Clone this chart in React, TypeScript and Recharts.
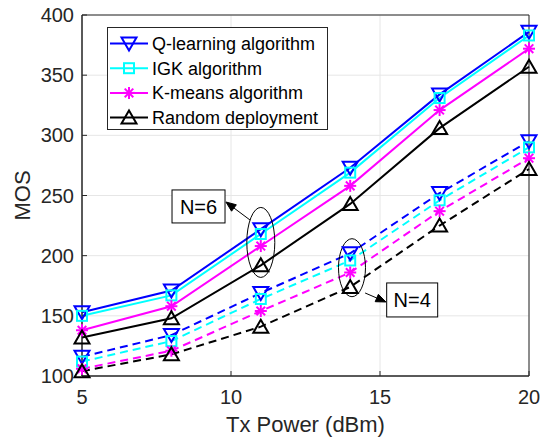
import React from 'react';
import {
  LineChart, Line, XAxis, YAxis, CartesianGrid, Legend, ReferenceArea, ReferenceDot, ReferenceLine,
} from 'recharts';

const txPower = [5, 8, 11, 14, 17, 20];
const qN6 = [153, 171, 222, 273, 334, 386];
const igkN6 = [150, 167, 218, 269, 331, 383];
const kmN6 = [138, 158, 208, 258, 321, 372];
const rdN6 = [132, 148, 192, 243, 306, 357];
const qN4 = [116, 134, 169, 202, 252, 295];
const igkN4 = [112, 129, 164, 196, 246, 290];
const kmN4 = [106, 121, 154, 186, 237, 281];
const rdN4 = [104, 118, 141, 174, 225, 272];

const xTicks = [5, 10, 15, 20];
const yTicks = [100, 150, 200, 250, 300, 350, 400];

const legendNames = ['Q-learning algorithm', 'IGK algorithm', 'K-means algorithm', 'Random deployment'];
const legendColors = ['#0000ff', '#00ffff', '#ff00ff', '#000000'];
const legendMarkers = ['down', 'square', 'star', 'up'];

const data = txPower.map((x, i) => ({
  x,
  qN6: qN6[i], igkN6: igkN6[i], kmN6: kmN6[i], rdN6: rdN6[i],
  qN4: qN4[i], igkN4: igkN4[i], kmN4: kmN4[i], rdN4: rdN4[i],
}));

const FONT = '"Liberation Sans", Arial, Helvetica, sans-serif';
const TXT = '#262626';

function MarkerShape({ kind, cx, cy, color }: { kind: string; cx: number; cy: number; color: string }) {
  if (cx == null || cy == null || isNaN(cx) || isNaN(cy)) return null;
  if (kind === 'down') {
    return <polygon points={`${cx - 7.5},${cy - 6} ${cx + 7.5},${cy - 6} ${cx},${cy + 7}`} fill="none" stroke={color} strokeWidth={2} />;
  }
  if (kind === 'up') {
    return <polygon points={`${cx - 7.5},${cy + 6} ${cx + 7.5},${cy + 6} ${cx},${cy - 7}`} fill="none" stroke={color} strokeWidth={2} />;
  }
  if (kind === 'square') {
    return <rect x={cx - 5} y={cy - 5} width={10} height={10} fill="none" stroke={color} strokeWidth={2} />;
  }
  const s = 6;
  const d = 4.3;
  return (
    <g stroke={color} strokeWidth={2}>
      <line x1={cx - s} y1={cy} x2={cx + s} y2={cy} />
      <line x1={cx} y1={cy - s} x2={cx} y2={cy + s} />
      <line x1={cx - d} y1={cy - d} x2={cx + d} y2={cy + d} />
      <line x1={cx - d} y1={cy + d} x2={cx + d} y2={cy - d} />
    </g>
  );
}

const makeDot = (kind: string, color: string) => (props: any) => (
  <MarkerShape key={`${kind}-${color}-${props.index}`} kind={kind} cx={props.cx} cy={props.cy} color={color} />
);

const LegendBox = () => (
  <svg width={221} height={103} style={{ display: 'block' }}>
    <rect x={0.5} y={0.5} width={220} height={102} fill="#ffffff" stroke={TXT} strokeWidth={1} />
    {legendNames.map((name, i) => {
      const y = 16.5 + i * 24.7;
      return (
        <g key={name}>
          <line x1={3} y1={y} x2={41} y2={y} stroke={legendColors[i]} strokeWidth={2} />
          <MarkerShape kind={legendMarkers[i]} cx={22} cy={y} color={legendColors[i]} />
          <text x={45} y={y} dy="0.35em" fontSize={18} fontFamily={FONT} fill="#000">{name}</text>
        </g>
      );
    })}
  </svg>
);

const ellipseShape = (rx: number, ry: number) => (props: any) => (
  <ellipse cx={props.cx} cy={props.cy} rx={rx} ry={ry} fill="none" stroke="#000" strokeWidth={1} />
);

const boxShape = (label: string, w: number, h: number) => (props: any) => (
  <g>
    <rect x={props.cx - w / 2} y={props.cy - h / 2} width={w} height={h} fill="#ffffff" stroke="#000" strokeWidth={1} />
    <text x={props.cx} y={props.cy} dy="0.36em" textAnchor="middle" fontSize={20} fontFamily={FONT} fill="#000">{label}</text>
  </g>
);

const arrowShape = (props: any) => {
  const { x1, y1, x2, y2 } = props;
  if ([x1, y1, x2, y2].some((v) => v == null || isNaN(v))) return null;
  const ang = Math.atan2(y2 - y1, x2 - x1);
  const L = 10;
  const W = 4;
  const bx = x2 - L * Math.cos(ang);
  const by = y2 - L * Math.sin(ang);
  const px = -Math.sin(ang) * W;
  const py = Math.cos(ang) * W;
  return (
    <g>
      <line x1={x1} y1={y1} x2={bx} y2={by} stroke="#000" strokeWidth={1} />
      <polygon points={`${x2},${y2} ${bx + px},${by + py} ${bx - px},${by - py}`} fill="#000" stroke="#000" />
    </g>
  );
};

const xLabel = (props: any) => {
  const vb = props.viewBox || {};
  return (
    <text x={vb.x + vb.width / 2} y={432} textAnchor="middle" fontSize={22} fontFamily={FONT} fill={TXT}>
      Tx Power (dBm)
    </text>
  );
};

const yLabel = (props: any) => {
  const vb = props.viewBox || {};
  const cy = vb.y + vb.height / 2;
  return (
    <text x={22} y={cy} transform={`rotate(-90, 22, ${cy})`} dy="0.36em" textAnchor="middle" fontSize={22} fontFamily={FONT} fill={TXT}>
      MOS
    </text>
  );
};

const series = [
  { key: 'qN6', color: '#0000ff', kind: 'down', dash: undefined },
  { key: 'igkN6', color: '#00ffff', kind: 'square', dash: undefined },
  { key: 'kmN6', color: '#ff00ff', kind: 'star', dash: undefined },
  { key: 'rdN6', color: '#000000', kind: 'up', dash: undefined },
  { key: 'qN4', color: '#0000ff', kind: 'down', dash: '8 5' },
  { key: 'igkN4', color: '#00ffff', kind: 'square', dash: '8 5' },
  { key: 'kmN4', color: '#ff00ff', kind: 'star', dash: '8 5' },
  { key: 'rdN4', color: '#000000', kind: 'up', dash: '8 5' },
];

export default function App() {
  return (
    <div style={{ position: 'absolute', left: 0, top: 0, width: 544, height: 438, background: '#fff' }}>
      <LineChart width={544} height={438} data={data} margin={{ top: 15, right: 15, bottom: 0, left: 0 }}>
        <CartesianGrid stroke="#e6e6e6" strokeWidth={1} />
        <XAxis
          dataKey="x"
          type="number"
          domain={[5, 20]}
          ticks={xTicks}
          height={62}
          tickLine={{ stroke: TXT }}
          tickSize={-5}
          tickMargin={19}
          axisLine={{ stroke: TXT }}
          tick={{ fontSize: 20, fontFamily: FONT, fill: TXT }}
          label={xLabel}
        />
        <YAxis
          type="number"
          domain={[100, 400]}
          ticks={yTicks}
          width={82}
          tickLine={{ stroke: TXT }}
          tickSize={-5}
          tickMargin={13}
          axisLine={{ stroke: TXT }}
          tick={{ fontSize: 20, fontFamily: FONT, fill: TXT }}
          label={yLabel}
        />
        <ReferenceArea x1={5} x2={20} y1={100} y2={400} fill="none" stroke={TXT} strokeWidth={1} ifOverflow="visible" />
        {series.map((s) => (
          <Line
            key={s.key}
            dataKey={s.key}
            stroke={s.color}
            strokeWidth={2}
            strokeDasharray={s.dash}
            dot={makeDot(s.kind, s.color)}
            activeDot={false}
            isAnimationActive={false}
          />
        ))}
        <ReferenceDot x={11} y={211} r={1} shape={ellipseShape(14, 35)} ifOverflow="visible" />
        <ReferenceDot x={14.06} y={190} r={1} shape={ellipseShape(13.5, 29)} ifOverflow="visible" />
        <ReferenceLine segment={[{ x: 10.64, y: 229.6 }, { x: 9.83, y: 244.6 }]} shape={arrowShape} ifOverflow="visible" />
        <ReferenceLine segment={[{ x: 14.5, y: 169 }, { x: 15.2, y: 161.5 }]} shape={arrowShape} ifOverflow="visible" />
        <ReferenceDot x={8.91} y={240.9} r={1} shape={boxShape('N=6', 53, 33)} ifOverflow="visible" />
        <ReferenceDot x={16.08} y={163.2} r={1} shape={boxShape('N=4', 51, 34)} ifOverflow="visible" />
        <Legend
          layout="vertical"
          align="center"
          verticalAlign="middle"
          content={() => <LegendBox />}
          wrapperStyle={{ position: 'absolute', left: 107, top: 27, width: 221, height: 103 }}
        />
      </LineChart>
    </div>
  );
}
